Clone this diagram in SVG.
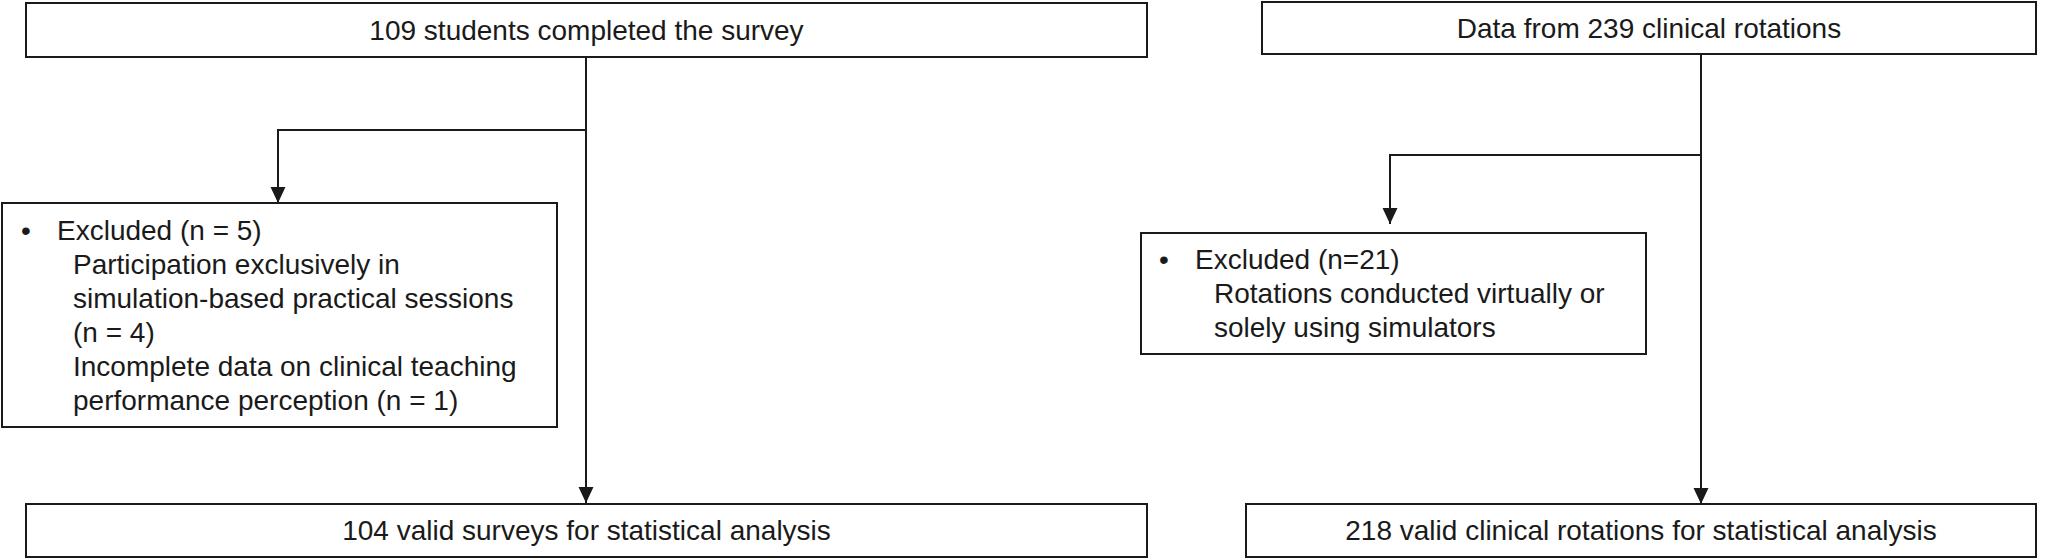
<svg xmlns="http://www.w3.org/2000/svg" width="2056" height="560" viewBox="0 0 2056 560">
<style>
.box{fill:#fff;stroke:#1a1a1a;stroke-width:2}
.t{font-family:"Liberation Sans",Arial,sans-serif;font-size:28px;fill:#1a1a1a}
.c{text-anchor:middle}
.ln{fill:none;stroke:#1a1a1a;stroke-width:2}
</style>
<defs>
<marker id="arr" markerUnits="userSpaceOnUse" markerWidth="16" markerHeight="16" viewBox="0 0 15 14" refX="15" refY="7" orient="auto">
<path d="M0,0 L15,7 L0,14 z" fill="#1a1a1a"/>
</marker>
</defs>
<rect width="2056" height="560" fill="#fff"/>
<g id="connectors">
<line class="ln" x1="586" y1="57" x2="586" y2="503" marker-end="url(#arr)"/>
<polyline class="ln" points="586,130 278,130 278,203" marker-end="url(#arr)"/>
<line class="ln" x1="1701" y1="54" x2="1701" y2="504" marker-end="url(#arr)"/>
<polyline class="ln" points="1701,155 1390,155 1390,224" marker-end="url(#arr)"/>
</g>
<g id="n1">
<rect class="box" x="26" y="3" width="1121" height="54"/>
<text class="t c" x="586.5" y="40">109 students completed the survey</text>
</g>
<g id="n2">
<rect class="box" x="2" y="203" width="555" height="224"/>
<text class="t" x="26" y="240" text-anchor="middle">•</text>
<text class="t" x="57" y="240">Excluded (n = 5)</text>
<text class="t" x="73" y="274">Participation exclusively in</text>
<text class="t" x="73" y="308">simulation-based practical sessions</text>
<text class="t" x="73" y="342">(n = 4)</text>
<text class="t" x="73" y="376">Incomplete data on clinical teaching</text>
<text class="t" x="73" y="410">performance perception (n = 1)</text>
</g>
<g id="n3">
<rect class="box" x="26" y="504" width="1121" height="53"/>
<text class="t c" x="586.5" y="540">104 valid surveys for statistical analysis</text>
</g>
<g id="n4">
<rect class="box" x="1262" y="2" width="774" height="52"/>
<text class="t c" x="1649" y="38">Data from 239 clinical rotations</text>
</g>
<g id="n5">
<rect class="box" x="1141" y="233" width="505" height="121"/>
<text class="t" x="1164" y="269" text-anchor="middle">•</text>
<text class="t" x="1195" y="269">Excluded (n=21)</text>
<text class="t" x="1214" y="303">Rotations conducted virtually or</text>
<text class="t" x="1214" y="337">solely using simulators</text>
</g>
<g id="n6">
<rect class="box" x="1246" y="504" width="790" height="53"/>
<text class="t c" x="1641" y="540">218 valid clinical rotations for statistical analysis</text>
</g>
</svg>
